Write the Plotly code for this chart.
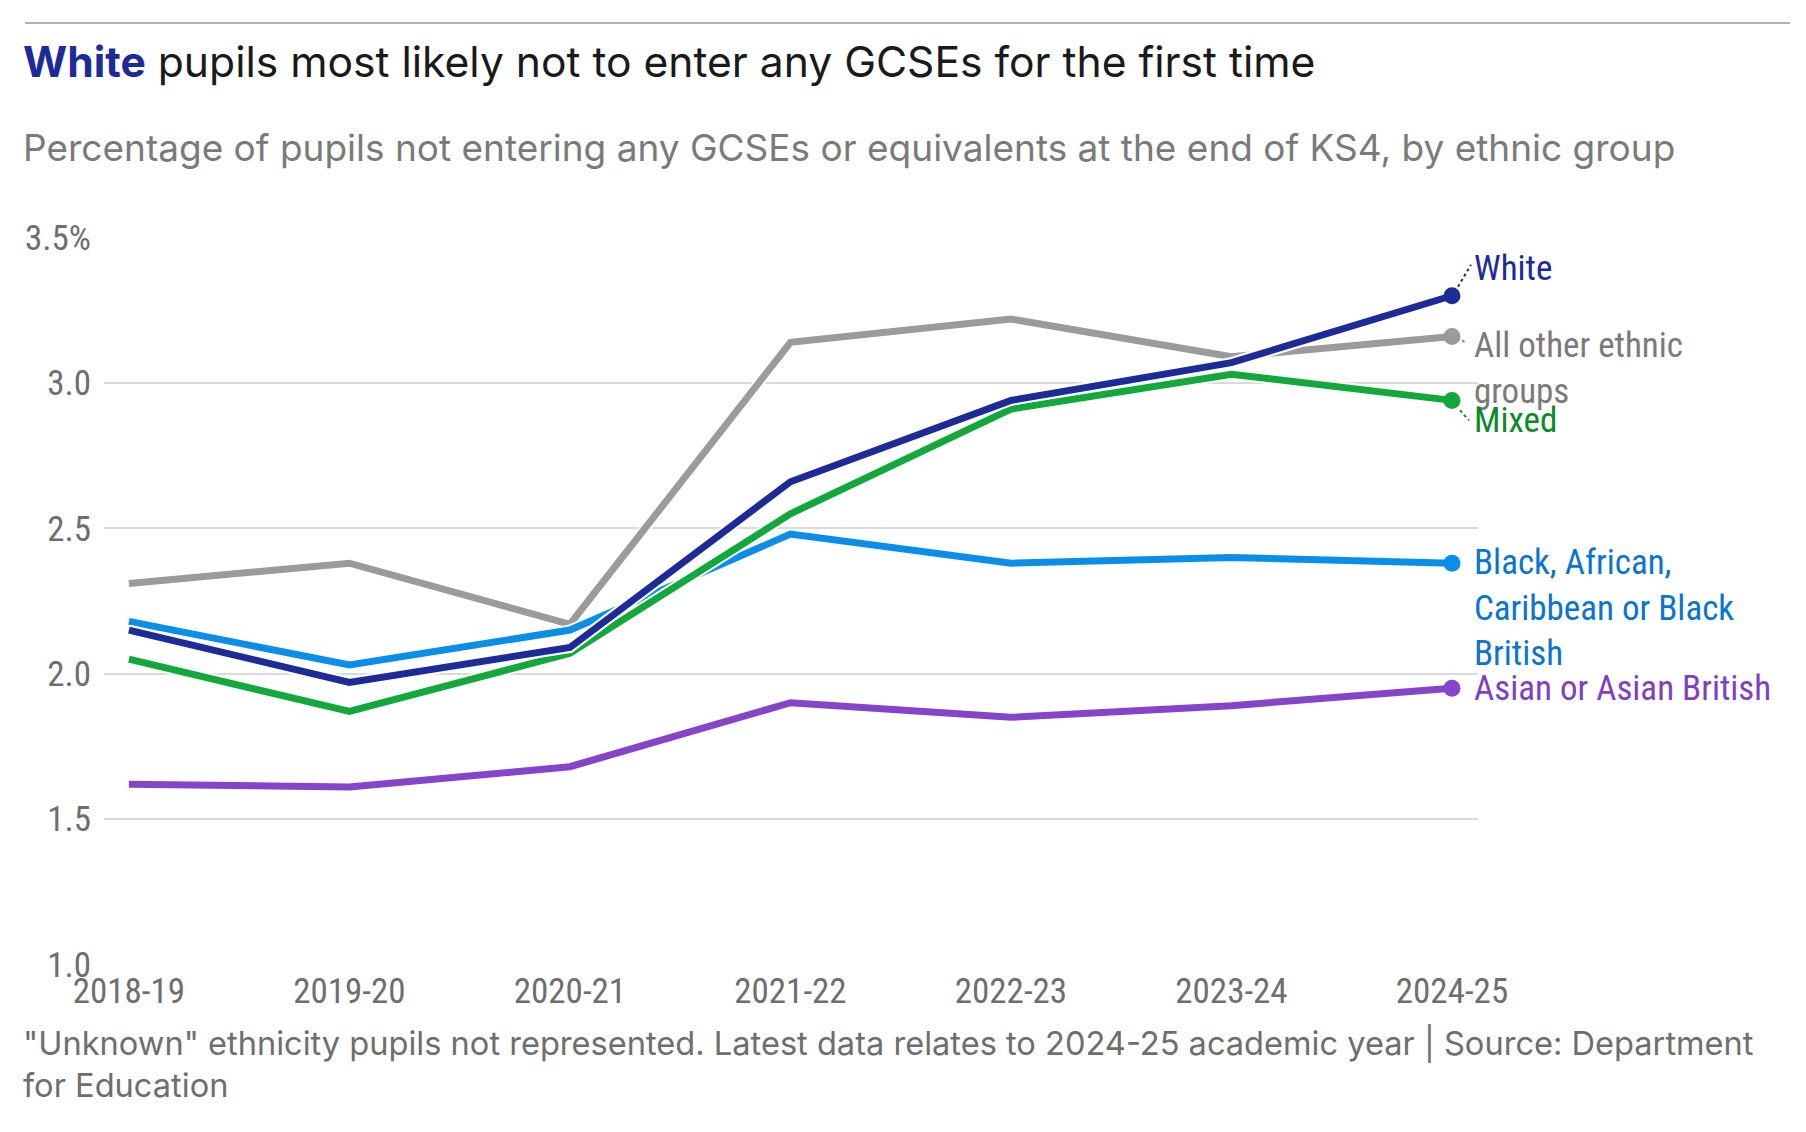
import plotly.graph_objects as go

years = ['2018-19', '2019-20', '2020-21', '2021-22', '2022-23', '2023-24', '2024-25']

all_other = [2.31, 2.38, 2.17, 3.14, 3.22, 3.09, 3.16]
asian = [1.62, 1.61, 1.68, 1.90, 1.85, 1.89, 1.95]
black = [2.18, 2.03, 2.15, 2.48, 2.38, 2.40, 2.38]
mixed = [2.05, 1.87, 2.07, 2.55, 2.91, 3.03, 2.94]
white = [2.15, 1.97, 2.09, 2.66, 2.94, 3.07, 3.30]

ytick_vals = [1.0, 1.5, 2.0, 2.5, 3.0, 3.5]
ytick_text = ['1.0', '1.5', '2.0', '2.5', '3.0', '3.5%']

W, H = 1806, 1132
L, R, T, B = 104, 1478, 237, 965

COND = 'Roboto Condensed, DejaVu Sans Condensed, Roboto, sans-serif'
SANS = 'Inter, Noto Sans, sans-serif'


def px_x(px):
    return (px - L) / (R - L)


def px_y(py):
    return (B - py) / (B - T)


# draw order: bottom first; each series gets a white halo underneath
series = [
    ('All other ethnic<br>groups', all_other, '#9b9b9b', '#7a7a7a', -32),
    ('Asian or Asian British', asian, '#8445c8', '#8040c0', 0),
    ('Black, African,<br>Caribbean or Black<br>British', black, '#0b8ee8', '#0a74d1', -45),
    ('Mixed', mixed, '#12a83b', '#0b8a2a', -20),
    ('White', white, '#1d2b99', '#1d2b99', 27),
]

fig = go.Figure()

for name, vals, col, lab_col, dy in series:
    fig.add_trace(go.Scatter(
        x=years, y=vals, mode='lines',
        line=dict(color='white', width=11),
        hoverinfo='skip', showlegend=False
    ))
    fig.add_trace(go.Scatter(
        x=years, y=vals, mode='lines',
        line=dict(color=col, width=7),
        name=name.replace('<br>', ' '), showlegend=False
    ))
    # end-of-line dot
    fig.add_trace(go.Scatter(
        x=years[-1:], y=vals[-1:], mode='markers',
        marker=dict(size=17, color=col, opacity=1, line=dict(width=0)),
        hoverinfo='skip', showlegend=False
    ))
    fig.add_annotation(
        x=years[-1], y=vals[-1], xref='x', yref='y',
        text=name, showarrow=False,
        xanchor='left', yanchor='middle', align='left',
        xshift=20, yshift=dy,
        font=dict(family=COND, size=35, color=lab_col)
    )

# dotted leader lines from end markers to labels
leaders = [
    (white, '#1d2b99', 6, 19, 9, 31),
    (all_other, '#8a8a8a', 10, 15, -4, -7),
    (mixed, '#0b8a2a', 8, 17, -10, -20),
]
for vals, col, x0, x1, y0, y1 in leaders:
    fig.add_shape(
        type='line', xref='x', yref='y',
        xsizemode='pixel', ysizemode='pixel',
        xanchor=len(years) - 1, yanchor=vals[-1],
        x0=x0, x1=x1, y0=y0, y1=y1,
        line=dict(color=col, width=2, dash='dot')
    )

# top rule
fig.add_shape(
    type='line', xref='paper', yref='paper',
    x0=px_x(25), x1=px_x(1790), y0=px_y(23), y1=px_y(23),
    line=dict(color='#b0b0b0', width=2)
)

fig.add_annotation(
    xref='paper', yref='paper', x=px_x(21), y=px_y(62),
    xanchor='left', yanchor='middle', showarrow=False,
    text='<b><span style="color:#1d2b99">White</span></b> pupils most likely not to enter any GCSEs for the first time',
    font=dict(family=SANS, size=42.6, color='#1a1a1a')
)
fig.add_annotation(
    xref='paper', yref='paper', x=px_x(21), y=px_y(147),
    xanchor='left', yanchor='middle', showarrow=False,
    text='Percentage of pupils not entering any GCSEs or equivalents at the end of KS4, by ethnic group',
    font=dict(family=SANS, size=37, color='#7a7a7a')
)
fig.add_annotation(
    xref='paper', yref='paper', x=px_x(21), y=px_y(1064),
    xanchor='left', yanchor='middle', showarrow=False, align='left',
    text='"Unknown" ethnicity pupils not represented. Latest data relates to 2024-25 academic year | Source: Department<br>for Education',
    font=dict(family=SANS, size=32.6, color='#6e6e6e')
)

fig.update_layout(
    width=W, height=H,
    margin=dict(l=L, r=W - R, t=T, b=H - B),
    paper_bgcolor='white', plot_bgcolor='white',
    showlegend=False,
    xaxis=dict(
        type='category', range=[-0.113, 6.118],
        showgrid=False, zeroline=False, showline=False,
        ticks='', ticklabelstandoff=2,
        tickfont=dict(family=COND, size=35, color='#6e6e6e')
    ),
    yaxis=dict(
        range=[0.998, 3.502],
        tickvals=ytick_vals, ticktext=ytick_text,
        showgrid=True, gridcolor='#dadada', gridwidth=2,
        zeroline=False, showline=False,
        ticks='', ticklabelstandoff=12,
        tickfont=dict(family=COND, size=35, color='#6e6e6e')
    ),
)

# drop the default page margin so the figure sits at the window's top-left corner
fig.write_html(
    'out.html',
    config={'displayModeBar': False},
    post_script="document.body.style.margin='0px';"
)
